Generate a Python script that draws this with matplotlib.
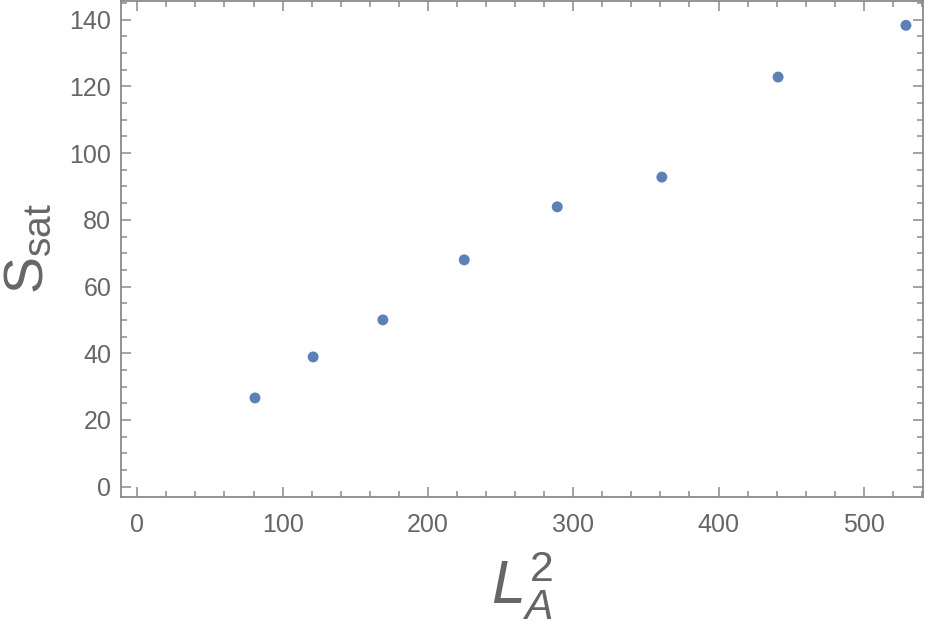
import matplotlib
matplotlib.use("Agg")
from matplotlib import pyplot as plt
from matplotlib.ticker import MultipleLocator

# data
la2 = [81, 121, 169, 225, 289, 361, 441, 529]
s_sat = [26.6, 38.9, 50.0, 68.0, 83.9, 92.8, 122.8, 138.3]

x_ticks = [0, 100, 200, 300, 400, 500]
y_ticks = [0, 20, 40, 60, 80, 100, 120, 140]

plt.rcParams['font.family'] = ['Liberation Sans', 'DejaVu Sans']
plt.rcParams['mathtext.fontset'] = 'custom'
plt.rcParams['mathtext.rm'] = 'Liberation Sans'
plt.rcParams['mathtext.it'] = 'Liberation Sans:italic'

frame_col = '#8a8a8a'
text_col = '#666666'

fig = plt.figure(figsize=(9.26, 6.28), dpi=100)
ax = fig.add_axes([0.1307, 0.2091, 0.8657, 0.7893])

ax.scatter(la2, s_sat, s=62, color='#5e81b5', edgecolors='none', zorder=5)

ax.set_xlim(-11.2, 540.5)
ax.set_ylim(-3.0, 145.6)
ax.set_xticks(x_ticks)
ax.set_yticks(y_ticks)
ax.xaxis.set_minor_locator(MultipleLocator(20))
ax.yaxis.set_minor_locator(MultipleLocator(5))

for sp in ax.spines.values():
    sp.set_color(frame_col)
    sp.set_linewidth(1.3)

ax.tick_params(which='both', direction='in', top=True, right=True,
               color=frame_col, width=1.1, labelcolor=text_col,
               labelsize=18)
ax.tick_params(which='major', length=7.5, pad=7)
ax.tick_params(which='minor', length=4.5)
ax.tick_params(axis='x', which='major', pad=12)

ax.set_ylabel(r'$\mathrm{S_{sat}}$', fontsize=40, color=text_col, labelpad=10)
ax.set_xlabel(r'$L_A^2$', fontsize=44, color=text_col, labelpad=9)

plt.savefig('out.png', dpi=100)
